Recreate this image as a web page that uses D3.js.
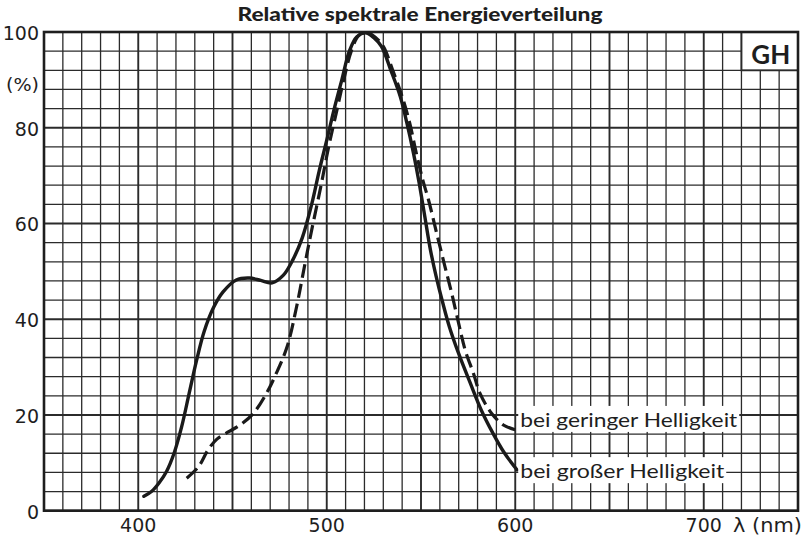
<!DOCTYPE html>
<html>
<head>
<meta charset="utf-8">
<script src="https://cdn.jsdelivr.net/npm/d3@7"></script>
<style>
  body { margin: 0; background: #fff; }
  text { font-family: Lato, "DejaVu Sans", sans-serif; fill: #1e1e1e; }
  text.num { font-family: "DejaVu Sans", sans-serif; }
</style>
</head>
<body>
<div id="chart"></div>
<script>
var xTicks = [400, 500, 600, 700];
var yTicks = [0, 20, 40, 60, 80, 100];

// bei großer Helligkeit (solid)
var highNm  = [403, 407, 411, 415, 419, 423, 427, 431, 435, 440, 445, 452, 459, 465, 471, 477, 482, 487, 492, 496, 500, 504, 508, 512, 516, 521, 525, 529, 534, 539, 542.5, 546, 549, 552, 555, 558, 561.5, 565, 570, 576, 582, 588, 594, 601];
var highPct = [3, 4, 5.8, 8.2, 12, 17.5, 24.5, 31.5, 37.5, 42.5, 45.7, 48.2, 48.6, 48.1, 47.6, 49.2, 52.4, 57, 64, 71, 77.4, 84, 90, 96, 99, 99.8, 98.8, 97, 92, 86.5, 81, 74.7, 68.5, 61.5, 54.5, 49, 43.5, 38.5, 32.8, 26.8, 21, 16.3, 12.2, 8.5];

// bei geringer Helligkeit (dashed)
var lowNm  = [425.7, 432, 437, 441.6, 448, 454, 461, 468, 473, 479, 484, 488.5, 492, 497, 501, 505, 509, 513, 517, 521, 526, 530, 535, 540, 544, 547.5, 551, 554, 558.3, 562.7, 566.3, 570, 573.4, 577.8, 581.3, 587.5, 593.7, 600];
var lowPct = [6.8, 9.2, 12.7, 14.9, 16.5, 17.9, 20.3, 24.5, 28.5, 34.3, 42.6, 51.7, 58.6, 68, 76, 83, 90, 96, 99.3, 100, 98.8, 97, 92, 86.5, 81, 74.7, 69, 64.9, 58, 51, 45.4, 39.1, 33.6, 28.7, 24.5, 20.3, 17.9, 16.9];

var width = 807;
var height = 540;

var svg = d3.select('#chart')
    .append('svg')
    .attr('width', width)
    .attr('height', height)
    .attr('viewBox', '0 0 ' + width + ' ' + height);

var x = d3.scaleLinear().domain([350, 750]).range([44, 798]);
var y = d3.scaleLinear().domain([0, 100]).range([510.7, 32]);

// grid
var grid = svg.append('g').attr('stroke', '#2b2b2b');
grid.selectAll('line.v')
    .data(d3.range(350, 751, 10))
    .enter().append('line')
    .attr('x1', function (d) { return x(d); })
    .attr('x2', function (d) { return x(d); })
    .attr('y1', y(0))
    .attr('y2', y(100))
    .attr('stroke-width', function (d) { return (d - 350) % 50 === 0 ? 1.9 : 1.3; });
grid.selectAll('line.h')
    .data(d3.range(0, 101, 4))
    .enter().append('line')
    .attr('y1', function (d) { return y(d); })
    .attr('y2', function (d) { return y(d); })
    .attr('x1', x(350))
    .attr('x2', x(750))
    .attr('stroke-width', function (d) { return d % 20 === 0 ? 1.9 : 1.3; });

// GH box
svg.append('rect')
    .attr('x', x(720)).attr('y', y(100))
    .attr('width', x(750) - x(720)).attr('height', y(92) - y(100))
    .attr('fill', '#fff').attr('stroke', '#2b2b2b').attr('stroke-width', 1.9);
svg.append('text')
    .attr('x', (x(720) + x(750)) / 2 + 1).attr('y', 64)
    .attr('text-anchor', 'middle')
    .style('font-weight', 'bold').style('font-size', '26px')
    .text('GH');

// frame
svg.append('rect')
    .attr('x', x(350)).attr('y', y(100))
    .attr('width', x(750) - x(350)).attr('height', y(0) - y(100))
    .attr('fill', 'none').attr('stroke', '#1e1e1e').attr('stroke-width', 2.6);

// curves
var line = d3.line()
    .x(function (d) { return x(d[0]); })
    .y(function (d) { return y(d[1]); })
    .curve(d3.curveCatmullRom.alpha(0.5));

svg.append('path')
    .datum(d3.zip(highNm, highPct))
    .attr('d', line)
    .attr('fill', 'none').attr('stroke', '#1a1a1a')
    .attr('stroke-width', 3.4).attr('stroke-linecap', 'round');

svg.append('path')
    .datum(d3.zip(lowNm, lowPct))
    .attr('d', line)
    .attr('fill', 'none').attr('stroke', '#1a1a1a')
    .attr('stroke-width', 3.2).attr('stroke-dasharray', '14,6');

// series labels with white background
var seriesLabels = [
    { text: 'bei geringer Helligkeit', nm: 600, pct: 17.5, len: 217 },
    { text: 'bei großer Helligkeit', nm: 600, pct: 6.8, len: 204 }
];
seriesLabels.forEach(function (s) {
    var g = svg.append('g');
    var t = g.append('text')
        .attr('x', x(s.nm) + 5).attr('y', y(s.pct))
        .attr('textLength', s.len).attr('lengthAdjust', 'spacingAndGlyphs')
        .style('font-size', '20px')
        .text(s.text);
    var b = t.node().getBBox();
    g.insert('rect', 'text')
        .attr('x', b.x - 2).attr('y', b.y - 1)
        .attr('width', b.width + 4).attr('height', b.height + 2)
        .attr('fill', '#fff');
});

// y tick labels
svg.selectAll('text.ytick')
    .data(yTicks)
    .enter().append('text')
    .attr('class', 'ytick num')
    .attr('x', 39)
    .attr('y', function (d) { return y(d) + 1; })
    .attr('text-anchor', 'end')
    .attr('dominant-baseline', 'central')
    .style('font-size', '19px')
    .text(function (d) { return d; });

svg.append('text')
    .attr('class', 'num')
    .attr('x', 39).attr('y', y(89))
    .attr('text-anchor', 'end')
    .attr('dominant-baseline', 'central')
    .attr('textLength', 33).attr('lengthAdjust', 'spacingAndGlyphs')
    .style('font-size', '18px')
    .text('(%)');

// x tick labels
svg.selectAll('text.xtick')
    .data(xTicks)
    .enter().append('text')
    .attr('class', 'xtick num')
    .attr('x', function (d) { return x(d); })
    .attr('y', 532)
    .attr('text-anchor', 'middle')
    .style('font-size', '19px')
    .text(function (d) { return d; });

svg.append('text')
    .attr('class', 'num')
    .attr('x', 733).attr('y', 532)
    .attr('textLength', 69).attr('lengthAdjust', 'spacingAndGlyphs')
    .style('font-size', '19px')
    .text('λ (nm)');

// title
svg.append('text')
    .attr('x', 420).attr('y', 21)
    .attr('text-anchor', 'middle')
    .attr('textLength', 365).attr('lengthAdjust', 'spacingAndGlyphs')
    .style('font-weight', '900').style('font-size', '19px')
    .text('Relative spektrale Energieverteilung');
</script>
</body>
</html>
